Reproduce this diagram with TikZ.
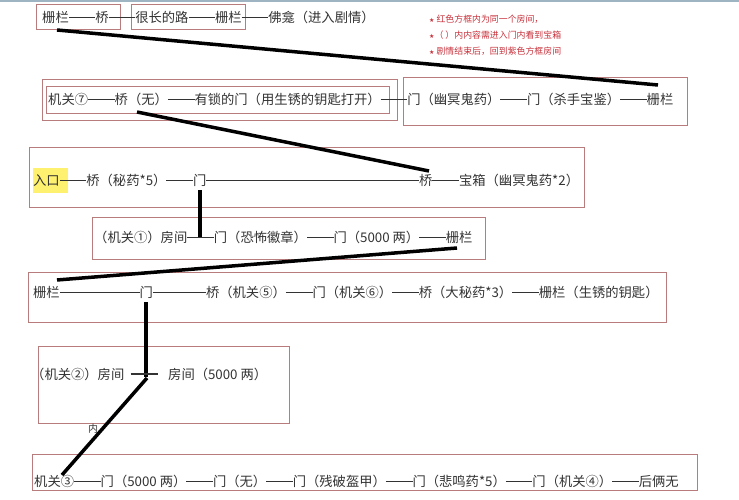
\documentclass[tikz,border=0pt]{standalone}
\usepackage{fontspec}
\setmainfont{Noto Sans CJK SC}
\newfontfamily\symfont{DejaVu Sans}
\definecolor{boxred}{HTML}{B87C7C}
\definecolor{txt}{HTML}{333333}
\definecolor{notered}{HTML}{C8323C}
\definecolor{topline}{HTML}{9FB4C2}
\definecolor{hl}{HTML}{FFF170}
\newcommand\ddsh[1]{\rule[0.34em]{#1em}{0.075em}}
\newcommand\nstar{{\symfont\fontsize{6}{6}\selectfont ★}}
\begin{document}
\begin{tikzpicture}[x=1pt,y=-1pt,
  room/.style={draw=boxred,line width=0.8pt,anchor=north west,inner sep=0pt},
  lbl/.style={anchor=west,inner sep=0pt,text=txt,font=\fontsize{13.3}{13.3}\selectfont},
  note/.style={anchor=west,inner sep=0pt,text=notered,font=\fontsize{8.9}{8.9}\selectfont},
  link/.style={line width=3.5pt,black},
]
\useasboundingbox (0,0) rectangle (739,500);
\fill[white] (0,0) rectangle (739,500);
\draw[topline,line width=2pt] (0,1) -- (739,1);

% rooms
\node[room,minimum width=84pt,minimum height=25pt] (boxA) at (36,4) {};
\node[room,minimum width=114pt,minimum height=25pt] (boxA2) at (131,4) {};
\node[room,minimum width=355pt,minimum height=41pt] (boxB) at (42,79) {};
\node[room,minimum width=343pt,minimum height=27pt] (boxBi) at (46,86) {};
\node[room,minimum width=284pt,minimum height=48pt] (boxC) at (403,77) {};
\node[room,minimum width=555pt,minimum height=60pt] (boxD) at (29,147) {};
\node[room,minimum width=393pt,minimum height=42pt] (boxE) at (92,217) {};
\node[room,minimum width=638pt,minimum height=50pt] (boxF) at (28,272) {};
\node[room,minimum width=251pt,minimum height=77pt] (boxG) at (38,346) {};
\node[room,minimum width=665pt,minimum height=36pt] (boxH) at (32,454) {};

% highlight
\node[fill=hl,anchor=north west,inner sep=0pt,minimum width=35pt,minimum height=25pt] (hlbox) at (33,168) {};

% texts
\node[lbl] (t1) at (42,17) {栅栏\ddsh{2}桥\ddsh{2}很长的路\ddsh{2}栅栏\ddsh{2}佛龛（进入剧情）};
\node[lbl] (t2) at (48,99.5) {机关⑦\ddsh{2}桥（无）\ddsh{2}有锁的门（用生锈的钥匙打开）\ddsh{2}门（幽冥鬼药）\ddsh{2}门（杀手宝鉴）\ddsh{2}栅栏};
\node[lbl] (t3) at (33,180.5) {入口\ddsh{2}桥（秘药*5）\ddsh{2}门\ddsh{16}桥\ddsh{2}宝箱（幽冥鬼药*2）};
\node[lbl] (t4) at (94,237) {（机关①）房间\ddsh{2}门（恐怖徽章）\ddsh{2}门（5000 两）\ddsh{2}栅栏};
\node[lbl] (t5) at (33,292.5) {栅栏\ddsh{6}门\ddsh{4}桥（机关⑤）\ddsh{2}门（机关⑥）\ddsh{2}桥（大秘药*3）\ddsh{2}栅栏（生锈的钥匙）};
\node[lbl] (t6a) at (31,374) {（机关②）房间};
\node[lbl] (t6b) at (168,374) {房间（5000 两）};
\node[lbl] (t7) at (34,481.5) {机关③\ddsh{2}门（5000 两）\ddsh{2}门（无）\ddsh{2}门（残破盔甲）\ddsh{2}门（悲鸣药*5）\ddsh{2}门（机关④）\ddsh{2}后俩无};
\node[lbl,font=\fontsize{10}{10}\selectfont] (nei) at (88,429) {内};

% notes
\node[note] (n1) at (429,19) {\nstar\ 红色方框内为同一个房间，};
\node[note] (n2) at (429,35) {\nstar（ ）内内容需进入门内看到宝箱};
\node[note] (n3) at (429,51) {\nstar\ 剧情结束后，回到紫色方框房间};

% connector coordinates
\coordinate (c1a) at (57,30);   \coordinate (c1b) at (658,85);
\coordinate (c2a) at (137,112); \coordinate (c2b) at (429,171);
\coordinate (c3a) at (200,190); \coordinate (c3b) at (200,237);
\coordinate (c4a) at (457,248); \coordinate (c4b) at (57,280);
\coordinate (c5a) at (146,302); \coordinate (c5b) at (146,377);
\coordinate (c6a) at (147,378); \coordinate (c6b) at (62,475);

\draw[link] (c1a) -- (c1b);
\draw[link] (c2a) -- (c2b);
\draw[link] (c3a) -- (c3b);
\draw[link] (c4a) -- (c4b);
\draw[link] (c5a) -- (c5b);
\draw[link] (c6a) -- (c6b);
\draw[txt,line width=1.2pt] ([xshift=6pt]t6a.east) -- ([xshift=-10pt]t6b.west);
\end{tikzpicture}
\end{document}
